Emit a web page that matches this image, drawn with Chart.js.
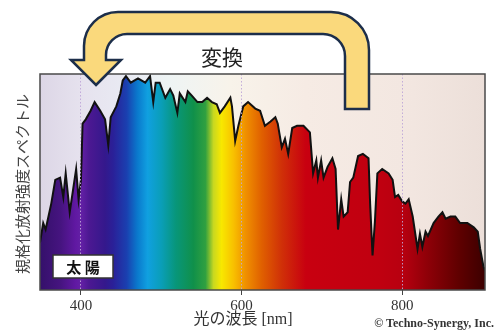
<!DOCTYPE html>
<html>
<head>
<meta charset="utf-8">
<script src="https://cdn.jsdelivr.net/npm/chart.js@4"></script>
<style>
  html, body { margin: 0; padding: 0; background: #fff; }
  #wrap { width: 497px; height: 331px; }
</style>
</head>
<body>
<div id="wrap"><canvas id="spectrumChart" width="497" height="331"></canvas></div>
<script>
// 波長 [nm]
const wavelengths = [349, 353, 356, 363, 368, 374, 378, 381, 386, 390, 394, 397, 400, 402, 406, 412, 417, 424, 430, 434,
    437, 444, 449, 452, 456, 462, 471, 480, 486, 490, 493, 498, 505, 511, 515, 520, 523, 530, 533, 538,
    545, 551, 557, 563, 569, 573, 579, 586, 588, 592, 596, 602, 608, 617, 623, 629, 636, 642, 645, 650,
    654, 658, 663, 669, 677, 685, 689, 693, 695, 699, 702, 707, 713, 717, 720, 724, 727, 732, 735, 739,
    745, 751, 758, 760, 763, 766, 769, 775, 783, 788, 791, 795, 800, 804, 808, 813, 819, 822, 825, 829,
    832, 839, 845, 850, 854, 860, 866, 872, 881, 889, 894, 897, 901, 903];
// 規格化放射強度
const intensity = [0.22, 0.31, 0.28, 0.40, 0.51, 0.52, 0.43, 0.54, 0.36, 0.46, 0.56, 0.42, 0.51, 0.77, 0.79, 0.83, 0.87, 0.83, 0.79, 0.67,
    0.80, 0.85, 0.91, 0.97, 0.99, 0.96, 0.98, 0.96, 0.99, 0.87, 0.96, 0.96, 0.89, 0.93, 0.90, 0.82, 0.91, 0.87, 0.92, 0.90,
    0.87, 0.87, 0.89, 0.87, 0.86, 0.82, 0.85, 0.89, 0.85, 0.69, 0.76, 0.85, 0.87, 0.84, 0.83, 0.76, 0.78, 0.80, 0.77, 0.66,
    0.70, 0.63, 0.75, 0.76, 0.76, 0.73, 0.54, 0.60, 0.52, 0.60, 0.52, 0.57, 0.61, 0.56, 0.28, 0.42, 0.34, 0.36, 0.50, 0.52,
    0.62, 0.63, 0.61, 0.40, 0.16, 0.32, 0.54, 0.56, 0.54, 0.51, 0.43, 0.44, 0.41, 0.40, 0.42, 0.34, 0.19, 0.26, 0.20, 0.27,
    0.25, 0.31, 0.34, 0.36, 0.33, 0.34, 0.34, 0.31, 0.31, 0.29, 0.27, 0.19, 0.11, 0.09];
const xTicks = [400, 600, 800];

// 塗りつぶしの虹色 (波長 → 色)
const rainbowStops = [
    [349, '#34106a'], [375, '#461480'], [393, '#6018a2'], [400, '#6420a6'], [410, '#4c1892'],
    [430, '#34188c'], [440, '#2a2098'], [457, '#1a40b0'], [470, '#0a78cc'], [483, '#10a0e0'],
    [500, '#0a9eb8'], [518, '#08967a'], [540, '#10904a'], [555, '#30a040'], [565, '#c8d820'],
    [575, '#f8e800'], [590, '#f8c000'], [605, '#f09000'], [625, '#e06000'], [650, '#d03008'],
    [680, '#c80010'], [770, '#c00010'], [800, '#b80010'], [830, '#900008'], [870, '#600000'], [903, '#3c0000']
];
// 背景の色
const bgStops = [
    [349, '#dcd6e6'], [400, '#e6e2ee'], [460, '#e9ebf3'], [510, '#eef4f4'], [585, '#f8f3ea'],
    [680, '#f6ebe4'], [800, '#f3e7e1'], [903, '#ecdfd9']
];

function makeGradient(chart, stops) {
    const area = chart.chartArea;
    const xs = chart.scales.x;
    const g = chart.ctx.createLinearGradient(area.left, 0, area.right, 0);
    const w = area.right - area.left;
    stops.forEach(([nm, c]) => {
        const p = (xs.getPixelForValue(nm) - area.left) / w;
        g.addColorStop(Math.min(1, Math.max(0, p)), c);
    });
    return g;
}

const decoPlugin = {
    id: 'deco',
    beforeDraw(chart) {
        const { ctx, chartArea: a } = chart;
        ctx.save();
        ctx.fillStyle = makeGradient(chart, bgStops);
        ctx.fillRect(a.left, a.top, a.right - a.left, a.bottom - a.top);
        ctx.restore();
    },
    afterDraw(chart) {
        const { ctx, chartArea: a } = chart;
        ctx.save();
        // 枠
        ctx.strokeStyle = '#4a4a4a';
        ctx.lineWidth = 1.5;
        ctx.strokeRect(a.left, a.top, a.right - a.left, a.bottom - a.top);

        // 太陽ラベル
        ctx.fillStyle = '#fff';
        ctx.fillRect(53, 255, 60, 23);
        ctx.strokeStyle = '#333';
        ctx.lineWidth = 1.5;
        ctx.strokeRect(53, 255, 60, 23);
        ctx.fillStyle = '#111';
        ctx.font = 'bold 15px "Noto Sans CJK JP"';
        ctx.textAlign = 'center';
        ctx.textBaseline = 'middle';
        ctx.fillText('太 陽', 83, 267);

        // 軸タイトル
        ctx.fillStyle = '#333';
        ctx.font = '16px "Liberation Serif", "Noto Sans CJK JP"';
        ctx.fillText('光の波長 [nm]', 243, 320);

        ctx.save();
        ctx.translate(22, 184);
        ctx.rotate(-Math.PI / 2);
        ctx.fillStyle = '#444';
        ctx.font = '15px "Noto Sans CJK JP"';
        ctx.fillText('規格化放射強度スペクトル', 0, 0);
        ctx.restore();

        // クレジット
        ctx.textAlign = 'right';
        ctx.fillStyle = '#333';
        ctx.font = 'bold 12px "Liberation Serif"';
        ctx.fillText('© Techno-Synergy, Inc.', 494, 324);

        // 変換の矢印
        ctx.beginPath();
        ctx.moveTo(96, 85);
        ctx.lineTo(121, 60);
        ctx.lineTo(106, 60);
        ctx.lineTo(106, 55);
        ctx.arcTo(106, 34, 127, 34, 21);
        ctx.lineTo(323, 34);
        ctx.arcTo(345, 34, 345, 56, 22);
        ctx.lineTo(345, 109);
        ctx.lineTo(369, 109);
        ctx.lineTo(369, 50);
        ctx.arcTo(369, 12, 331, 12, 38);
        ctx.lineTo(118, 12);
        ctx.arcTo(84, 12, 84, 46, 34);
        ctx.lineTo(84, 60);
        ctx.lineTo(71, 60);
        ctx.closePath();
        ctx.fillStyle = '#fad97c';
        ctx.fill();
        ctx.strokeStyle = '#1c2e4a';
        ctx.lineWidth = 2.5;
        ctx.lineJoin = 'miter';
        ctx.stroke();

        ctx.fillStyle = '#222';
        ctx.textAlign = 'center';
        ctx.font = '21px "Noto Sans CJK JP"';
        ctx.fillText('変換', 222, 57);
        ctx.restore();
    }
};

const ctx = document.getElementById('spectrumChart').getContext('2d');
new Chart(ctx, {
    type: 'line',
    data: {
        datasets: [{
            data: wavelengths.map((w, i) => ({ x: w, y: intensity[i] })),
            borderColor: '#111',
            borderWidth: 2,
            pointRadius: 0,
            tension: 0,
            fill: 'origin',
            backgroundColor: function (context) {
                const chart = context.chart;
                if (!chart.chartArea) return '#c00010';
                return makeGradient(chart, rainbowStops);
            }
        }]
    },
    options: {
        responsive: false,
        animation: false,
        layout: { padding: { left: 40, right: 12, top: 74, bottom: 0 } },
        plugins: {
            legend: { display: false },
            tooltip: { enabled: false }
        },
        scales: {
            x: {
                type: 'linear',
                min: 349,
                max: 903,
                afterBuildTicks: (scale) => { scale.ticks = xTicks.map(v => ({ value: v })); },
                afterFit: (scale) => { scale.height = 41; },
                border: { display: false, dash: [1.5, 2] },
                grid: {
                    z: 1,
                    color: 'rgba(190,165,215,0.9)',
                    lineWidth: 1,
                    tickColor: '#444',
                    tickBorderDash: [],
                    tickLength: 5
                },
                ticks: {
                    color: '#333',
                    padding: 2,
                    maxRotation: 0,
                    font: { family: '"Liberation Serif"', size: 15 }
                }
            },
            y: {
                display: false,
                min: 0,
                max: 1
            }
        }
    },
    plugins: [decoPlugin]
});
</script>
</body>
</html>
